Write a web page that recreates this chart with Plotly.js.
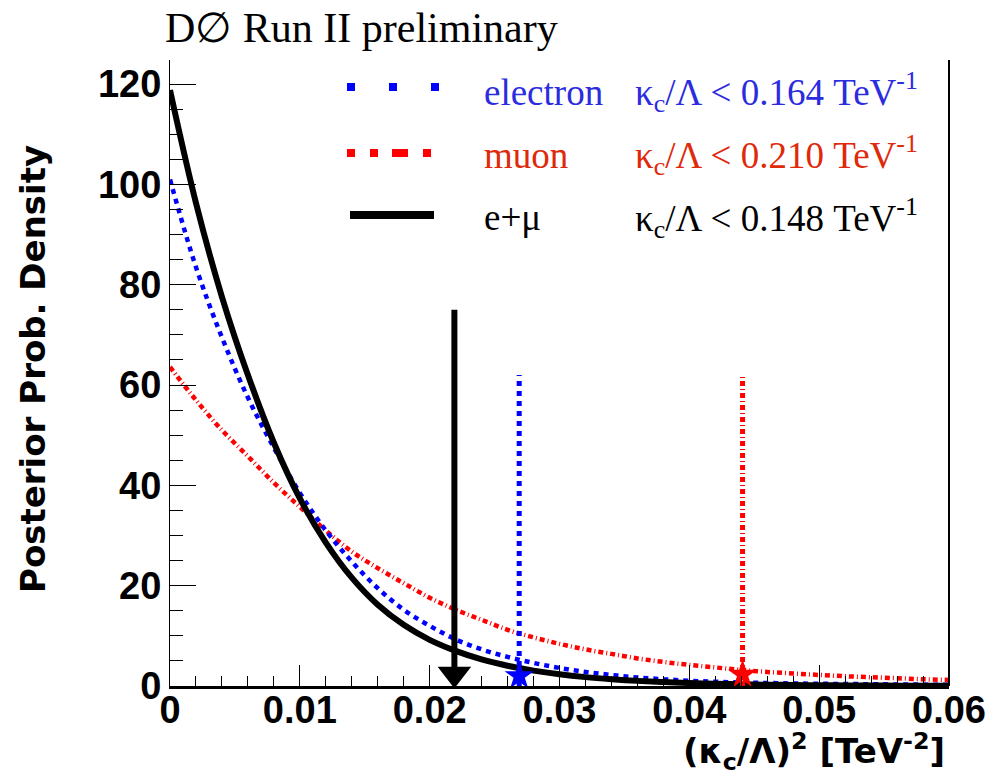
<!DOCTYPE html>
<html>
<head>
<meta charset="utf-8">
<script src="https://cdn.plot.ly/plotly-3.0.1.min.js"></script>
<style>
  html, body { margin: 0; padding: 0; background: #ffffff; }
  #chart { width: 993px; height: 775px; }
</style>
</head>
<body>
<div id="chart"></div>
<script>
// (kappa_c / Lambda)^2 in TeV^-2
const kappaSq = [0, 0.002, 0.004, 0.006, 0.008, 0.010, 0.012, 0.014, 0.016, 0.018,
                 0.020, 0.022, 0.024, 0.026, 0.028, 0.030, 0.032, 0.034, 0.036, 0.038,
                 0.040, 0.042, 0.044, 0.046, 0.048, 0.050, 0.052, 0.054, 0.056, 0.058, 0.060];

// posterior probability densities
const electronPdf = [101, 83.5, 69.5, 57.5, 47.5, 38.5, 31, 24.8, 19.5, 15.2,
                     12, 9.3, 7.3, 5.8, 4.6, 3.6, 2.8, 2.2, 1.7, 1.35,
                     1.05, 0.85, 0.7, 0.6, 0.5, 0.45, 0.4, 0.35, 0.3, 0.28, 0.25];
const muonPdf = [63.6, 57, 51, 45.8, 40.5, 35.7, 31, 26.8, 23.5, 20.5,
                 17.6, 15.2, 13.2, 11.2, 9.7, 8.4, 7.3, 6.4, 5.5, 4.8,
                 4.2, 3.7, 3.2, 2.8, 2.5, 2.2, 1.95, 1.75, 1.55, 1.35, 1.2];
const combinedPdf = [118.8, 96.3, 77.6, 62.0, 48.5, 37.4, 28.6, 21.6, 16.2, 12.2,
                     9.2, 7.0, 5.3, 4.04, 3.07, 2.33, 1.77, 1.35, 1.02, 0.78,
                     0.59, 0.45, 0.34, 0.26, 0.2, 0.15, 0.11, 0.087, 0.066, 0.05, 0.038];

// 95% upper limits on kappa_c / Lambda [TeV^-1]
const limitElectron = 0.164;
const limitMuon = 0.210;
const limitCombined = 0.148;

// heights of the limit markers
const markerTopElectron = 62;
const markerTopMuon = 62;
const arrowTopCombined = 75;
const arrowTipCombined = 2.4;
const blobElectron = 2.0;
const blobMuon = 2.3;

const xTickVals = [0, 0.01, 0.02, 0.03, 0.04, 0.05, 0.06];
const xTickText = ['0', '0.01', '0.02', '0.03', '0.04', '0.05', '0.06'];
const yTickVals = [0, 20, 40, 60, 80, 100, 120];
const yTickText = ['0', '20', '40', '60', '80', '100', '120'];

const BLUE = '#0000ff', RED = '#ff0000', BLACK = '#000000';
const BLUE_TEXT = '#2b2be0', RED_TEXT = '#e0280a';
const DOT = '5px,5px';
const DASHDOT = '5px,3px,1px,3px';

const sq = v => v * v;

const traces = [
  { x: kappaSq, y: muonPdf, mode: 'lines', line: { color: RED, width: 4.5, dash: DASHDOT, shape: 'spline' }, hoverinfo: 'skip' },
  { x: kappaSq, y: electronPdf, mode: 'lines', line: { color: BLUE, width: 4.5, dash: DOT, shape: 'spline' }, hoverinfo: 'skip' },
  { x: kappaSq, y: combinedPdf, mode: 'lines', line: { color: BLACK, width: 6, shape: 'spline' }, hoverinfo: 'skip' },
  // electron limit
  { x: [sq(limitElectron), sq(limitElectron)], y: [0, markerTopElectron], mode: 'lines',
    line: { color: BLUE, width: 5, dash: DOT }, hoverinfo: 'skip' },
  { x: [sq(limitElectron)], y: [blobElectron], mode: 'markers',
    marker: { symbol: 'star', size: 22, color: BLUE, opacity: 1 }, hoverinfo: 'skip' },
  // muon limit
  { x: [sq(limitMuon), sq(limitMuon)], y: [0, markerTopMuon], mode: 'lines',
    line: { color: RED, width: 5, dash: DASHDOT }, hoverinfo: 'skip' },
  { x: [sq(limitMuon)], y: [blobMuon], mode: 'markers',
    marker: { symbol: 'star', size: 22, color: RED, opacity: 1 }, hoverinfo: 'skip' },
  // combined limit arrow: shaft and head
  { x: [sq(limitCombined), sq(limitCombined)], y: [arrowTopCombined, arrowTipCombined], mode: 'lines',
    line: { color: BLACK, width: 6 }, hoverinfo: 'skip' },
  { x: [sq(limitCombined)], y: [arrowTipCombined], mode: 'markers',
    marker: { symbol: 'triangle-down', size: 29, color: BLACK, opacity: 1, line: { width: 0 } },
    hoverinfo: 'skip' }
];

const serif = 'Liberation Serif, Times New Roman, serif';
const sansBold = 'Liberation Sans, Arial, sans-serif';
const wideBold = 'DejaVu Sans, sans-serif';

// legend rows: sample line styles and texts
const legendRows = [
  { label: 'electron', limit: '0.164', color: BLUE, text: BLUE_TEXT, dash: '8px,34px', x0: 347, x1: 440, y: 87, ty: 92 },
  { label: 'muon', limit: '0.210', color: RED, text: RED_TEXT, dash: '8px,15px,8px,14px,16px,15px,8px,34px', x0: 347, x1: 440, y: 153, ty: 155 },
  { label: 'e+μ', limit: '0.148', color: BLACK, text: BLACK, dash: 'solid', x0: 350, x1: 434, y: 215, ty: 218 }
];

const W = 993, H = 775;
const mL = 170, mR = 44, mT = 60, mB = 89;
const pw = W - mL - mR, ph = H - mT - mB;
const px2x = p => (p - mL) / pw;
const px2y = p => (H - mB - p) / ph;

const shapes = [
  // right frame edge
  { type: 'line', xref: 'paper', yref: 'paper', x0: 1, x1: 1, y0: 0, y1: 1, line: { color: BLACK, width: 2 } }
];
const annotations = [];

legendRows.forEach(r => {
  shapes.push({
    type: 'line', xref: 'paper', yref: 'paper',
    x0: px2x(r.x0), x1: px2x(r.x1), y0: px2y(r.y), y1: px2y(r.y),
    line: { color: r.color, width: 8, dash: r.dash }
  });
  annotations.push({
    xref: 'paper', yref: 'paper', x: px2x(482), y: px2y(r.ty), xanchor: 'left', yanchor: 'middle',
    text: r.label, showarrow: false, font: { family: serif, size: 37, color: r.text }
  });
  annotations.push({
    xref: 'paper', yref: 'paper', x: px2x(633), y: px2y(r.ty), xanchor: 'left', yanchor: 'middle',
    text: 'κ<sub>c</sub>/Λ < ' + r.limit + ' TeV<sup>-1</sup>', showarrow: false,
    font: { family: serif, size: 37, color: r.text }
  });
});

// title
annotations.push({
  xref: 'paper', yref: 'paper', x: px2x(163), y: px2y(28), xanchor: 'left', yanchor: 'middle',
  text: 'D∅ Run II preliminary', showarrow: false, font: { family: serif, size: 42, color: BLACK }
});
// x-axis title
annotations.push({
  xref: 'paper', yref: 'paper', x: px2x(947), y: px2y(751), xanchor: 'right', yanchor: 'middle',
  text: '<b>(κ<sub>c</sub>/Λ)<sup>2</sup> [TeV<sup>-2</sup>]</b>', showarrow: false,
  font: { family: wideBold, size: 34, color: BLACK }
});
// y-axis title
annotations.push({
  xref: 'paper', yref: 'paper', x: px2x(33), y: px2y(369), xanchor: 'center', yanchor: 'middle',
  textangle: -90, text: '<b>Posterior Prob. Density</b>', showarrow: false,
  font: { family: wideBold, size: 34, color: BLACK }
});

const tickFont = { family: sansBold, size: 38, color: BLACK, weight: 'bold' };

const layout = {
  width: W, height: H,
  margin: { l: mL, r: mR, t: mT, b: mB, pad: 0 },
  paper_bgcolor: '#ffffff', plot_bgcolor: '#ffffff',
  showlegend: false,
  xaxis: {
    range: [0, 0.06], showgrid: false, zeroline: false,
    showline: true, linecolor: BLACK, linewidth: 3,
    tickmode: 'array', tickvals: xTickVals, ticktext: xTickText,
    ticks: 'inside', ticklen: 21, tickwidth: 1, tickcolor: BLACK,
    minor: { ticks: 'inside', ticklen: 10, tickwidth: 1, tickcolor: BLACK, dtick: 0.002, showgrid: false },
    tickfont: tickFont, ticklabelstandoff: -12
  },
  yaxis: {
    range: [0, 124.8], showgrid: false, zeroline: false,
    showline: true, linecolor: BLACK, linewidth: 1,
    tickmode: 'array', tickvals: yTickVals, ticktext: yTickText,
    ticks: 'inside', ticklen: 26, tickwidth: 1, tickcolor: BLACK,
    minor: { ticks: 'inside', ticklen: 13, tickwidth: 1, tickcolor: BLACK, dtick: 5, showgrid: false },
    tickfont: tickFont
  },
  shapes: shapes,
  annotations: annotations
};

Plotly.newPlot('chart', traces, layout, { staticPlot: true, displayModeBar: false });
</script>
</body>
</html>
